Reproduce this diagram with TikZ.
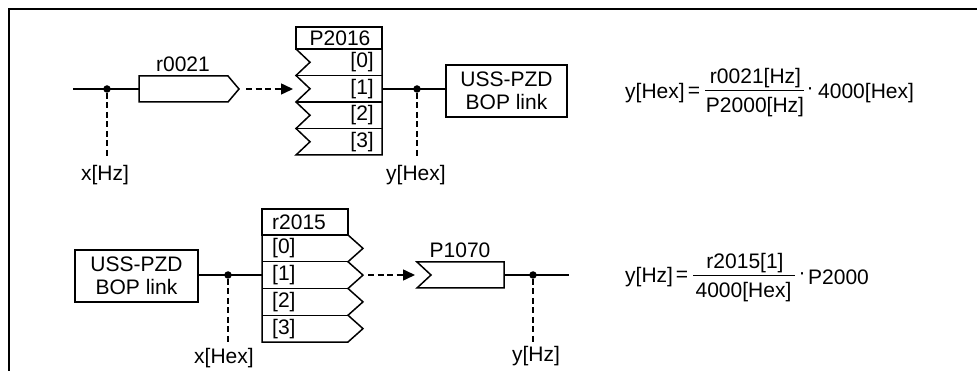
\documentclass[tikz,border=0pt]{standalone}
\usepackage{fontspec}
\setmainfont{Liberation Sans}
\usetikzlibrary{arrows.meta}
\newcommand\dgfont{\fontsize{21}{23.5}\selectfont}
\begin{document}
\begin{tikzpicture}[x=1pt,y=-1pt,
  ln/.style={line width=1.5pt, line join=miter},
  dsh/.style={line width=1.5pt, dash pattern=on 6pt off 3.5pt},
  arr/.style={dsh, -{Triangle[length=12pt,width=11pt]}},
  dotn/.style={circle, fill, inner sep=0pt, minimum size=7.5pt},
  lbl/.style={font=\dgfont, inner sep=0pt},
  box/.style={draw, line width=1.5pt, align=center, font=\dgfont, inner sep=0pt, minimum width=#1, minimum height=52pt},
]
\useasboundingbox (0,0) rectangle (977,371);
% frame
\draw[line width=2.2pt] (9,390) -- (9,9) -- (1000,9);

% ===== top row =====
\coordinate (in1) at (73,89);
\coordinate (r21w) at (139,89);
\draw[ln] (in1) -- (r21w);
\node[dotn] (d1) at (107,89) {};
\coordinate (d1b) at (107,157);
\draw[dsh] (d1) -- (d1b);
\node[lbl] (xhz) at (105,175) {x[Hz]};

\node[lbl] (r21lbl) at (183,64) {r0021};
\draw[ln] (139,76) -- (228,76) -- (239,89) coordinate (r21tip) -- (228,102) -- (139,102) -- cycle;

\coordinate (a1s) at (246,89);
\coordinate (a1e) at (293,89);
\draw[arr] (a1s) -- (a1e);

% P2016
\draw[ln] (296,27) rectangle (382,49);
\node[lbl] (p2016) at (340,38) {P2016};
\draw[ln] (382,49) -- (382,155) -- (296,155) -- (310,141.75) -- (296,128.5) -- (310,115.25) -- (296,102) -- (310,88.75) -- (296,75.5) -- (310,62.25) -- (296,49);
\foreach \k in {1,2,3} \draw[ln] (296,49+26.5*\k) -- (382,49+26.5*\k);
\foreach \k in {0,...,3} \node[lbl,anchor=east] (p16r\k) at (374,62.25+26.5*\k) {[\k]};
\coordinate (p16out) at (382,89);

\node[box=121pt] (uss1) at (506.5,91) {USS-PZD\\BOP link};
\draw[ln] (p16out) -- (uss1.west |- p16out);
\node[dotn] (d2) at (417,89) {};
\coordinate (d2b) at (417,157);
\draw[dsh] (d2) -- (d2b);
\node[lbl] (yhex) at (416,175) {y[Hex]};

% equation 1
\node[lbl,anchor=west] (e1l) at (625,93) {y[Hex]};
\node[lbl] (e1eq) at (694,92) {=};
\node[lbl] (e1num) at (755.5,78) {r0021[Hz]};
\node[lbl] (e1den) at (755,107) {P2000[Hz]};
\draw[line width=1pt] (705,91) -- (804,91);
\node[lbl] (e1dot) at (810,91) {·};
\node[lbl,anchor=west] (e1r) at (818,93) {4000[Hex]};

% ===== bottom row =====
\node[box=123pt] (uss2) at (136.5,276) {USS-PZD\\BOP link};
\coordinate (r15in) at (262,275);
\draw[ln] (uss2.east |- r15in) -- (r15in);
\node[dotn] (d3) at (228,275) {};
\coordinate (d3b) at (228,342);
\draw[dsh] (d3) -- (d3b);
\node[lbl] (xhex) at (224,358) {x[Hex]};

% r2015
\draw[ln] (262,209) rectangle (348,235);
\node[lbl,anchor=west] (r2015) at (272,222) {r2015};
\draw[ln] (348,235) -- (363,248.375) -- (348,261.75) -- (363,275.125) -- (348,288.5) -- (363,301.875) -- (348,315.25) -- (363,328.625) -- (348,342) -- (262,342) -- (262,235);
\foreach \k in {1,2,3} \draw[ln] (262,235+26.75*\k) -- (348,235+26.75*\k);
\foreach \k in {0,...,3} \node[lbl,anchor=west] (r15r\k) at (272,248.375+26.75*\k) {[\k]};

\coordinate (a2s) at (368,275);
\coordinate (a2e) at (415,275);
\draw[arr] (a2s) -- (a2e);

% P1070
\node[lbl] (p1070) at (460,250) {P1070};
\draw[ln] (417,262) -- (504,262) -- (504,288) -- (417,288) -- (431,275) -- cycle;
\coordinate (p70out) at (504,275);
\coordinate (out2) at (569,275);
\draw[ln] (p70out) -- (out2);
\node[dotn] (d4) at (533,275) {};
\coordinate (d4b) at (533,342);
\draw[dsh] (d4) -- (d4b);
\node[lbl] (yhz) at (536,356) {y[Hz]};

% equation 2
\node[lbl,anchor=west] (e2l) at (625,277) {y[Hz]};
\node[lbl] (e2eq) at (682,276) {=};
\node[lbl] (e2num) at (745,263) {r2015[1]};
\node[lbl] (e2den) at (743.5,292) {4000[Hex]};
\draw[line width=1pt] (693,276) -- (795,276);
\node[lbl] (e2dot) at (802,276) {·};
\node[lbl,anchor=west] (e2r) at (808,277) {P2000};
\end{tikzpicture}
\end{document}
